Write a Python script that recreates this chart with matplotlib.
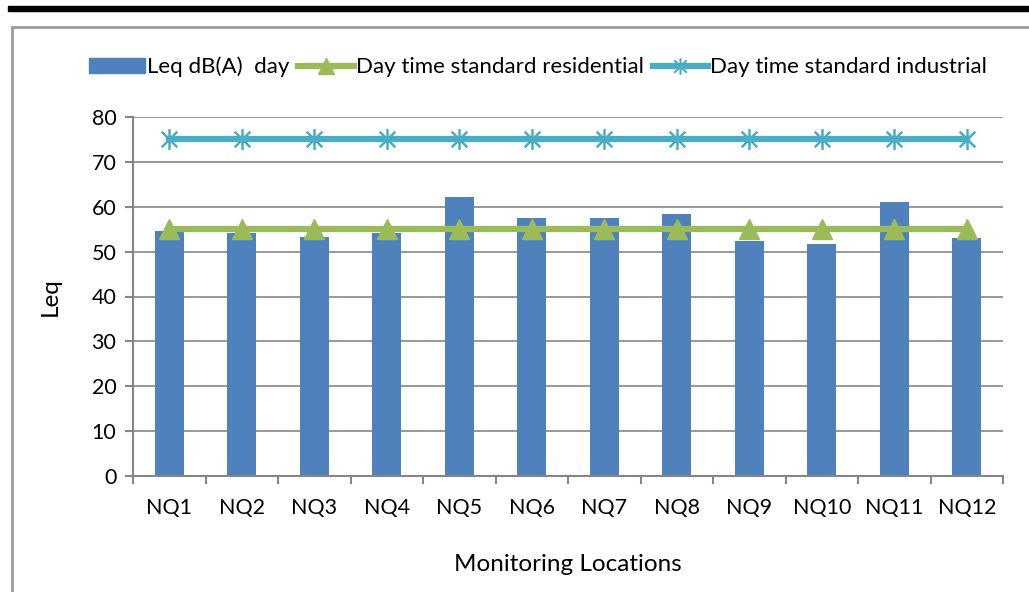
import matplotlib
matplotlib.use('Agg')
import matplotlib.pyplot as plt
import numpy as np
from matplotlib.path import Path
from matplotlib.patches import Rectangle
from matplotlib.lines import Line2D

plt.rcParams['font.family'] = ['Lato', 'DejaVu Sans']

locations = ['NQ1', 'NQ2', 'NQ3', 'NQ4', 'NQ5', 'NQ6',
             'NQ7', 'NQ8', 'NQ9', 'NQ10', 'NQ11', 'NQ12']
leq_day = [54.5, 54.1, 53.2, 54.1, 62.1, 57.4,
           57.4, 58.4, 52.4, 51.8, 61.0, 53.1]
std_residential = [55] * 12
std_industrial = [75] * 12

bar_col = '#4F81BD'
green = '#9BBB59'
teal = '#4BACC6'
grey = '#868686'

# asterisk marker: an x plus a vertical stroke
star = Path([(0, -1), (0, 1), (-0.75, -0.75), (0.75, 0.75), (-0.75, 0.75), (0.75, -0.75)],
            [Path.MOVETO, Path.LINETO, Path.MOVETO, Path.LINETO, Path.MOVETO, Path.LINETO])

fig = plt.figure(figsize=(10.29, 5.92), dpi=100)

# black rule at top and grey frame around chart
fig.patches.append(Rectangle((8 / 1029, 1 - 11 / 592), 1 - 8 / 1029, 5 / 592,
                             transform=fig.transFigure, color='black', zorder=0))
fig.patches.append(Rectangle((12 / 1029, -0.05), 1.1, 1 - 27 / 592 + 0.05,
                             transform=fig.transFigure, facecolor='none',
                             edgecolor='#9a9a9a', linewidth=2, zorder=0))

ax = fig.add_axes([133 / 1029, 116 / 592, 870 / 1029, 359 / 592])
x = np.arange(len(locations))

ax.bar(x, leq_day, width=0.4, color=bar_col, zorder=2)
ax.plot(x, std_residential, color=green, linewidth=4.5, marker='^',
        markersize=14, zorder=3)
ax.plot(x, std_industrial, color=teal, linewidth=4.5, marker=star,
        markersize=15, markeredgewidth=1.8, markeredgecolor=teal, zorder=3)

ax.set_xlim(-0.5, len(locations) - 0.5)
ax.set_ylim(0, 80)
ax.set_yticks(np.arange(0, 81, 10))
ax.set_xticks(x)
ax.set_xticklabels(locations)
ax.set_xticks(np.arange(-0.5, len(locations)), minor=True)
ax.tick_params(axis='x', which='major', length=0, pad=16, labelsize=15.5)
ax.tick_params(axis='x', which='minor', length=6, width=1.5, color=grey)
ax.tick_params(axis='y', length=6, width=1.5, color=grey, labelsize=15.5, pad=6)
ax.yaxis.grid(True, color=grey, linewidth=1.2, zorder=0)
ax.set_axisbelow(True)
for side in ['top', 'right']:
    ax.spines[side].set_visible(False)
for side in ['left', 'bottom']:
    ax.spines[side].set_color(grey)
    ax.spines[side].set_linewidth(1.5)

ax.set_ylabel('Leq', fontsize=17.5, labelpad=22)
ax.set_xlabel('Monitoring Locations', fontsize=17.5, labelpad=26)

handles = [Rectangle((0, 0), 1, 1, color=bar_col),
           Line2D([], [], color=green, linewidth=4.5, marker='^', markersize=11),
           Line2D([], [], color=teal, linewidth=4.5, marker=star, markersize=12,
                  markeredgewidth=1.5, markeredgecolor=teal)]
fig.legend(handles, ['Leq dB(A)  day', 'Day time standard residential',
                     'Day time standard industrial'],
           loc='center left', bbox_to_anchor=(78 / 1029, 1 - 67 / 592),
           ncol=3, frameon=False, fontsize=16, handlelength=2.5,
           handletextpad=0.1, columnspacing=0.4, borderpad=0)

fig.savefig('out.png', dpi=100)
